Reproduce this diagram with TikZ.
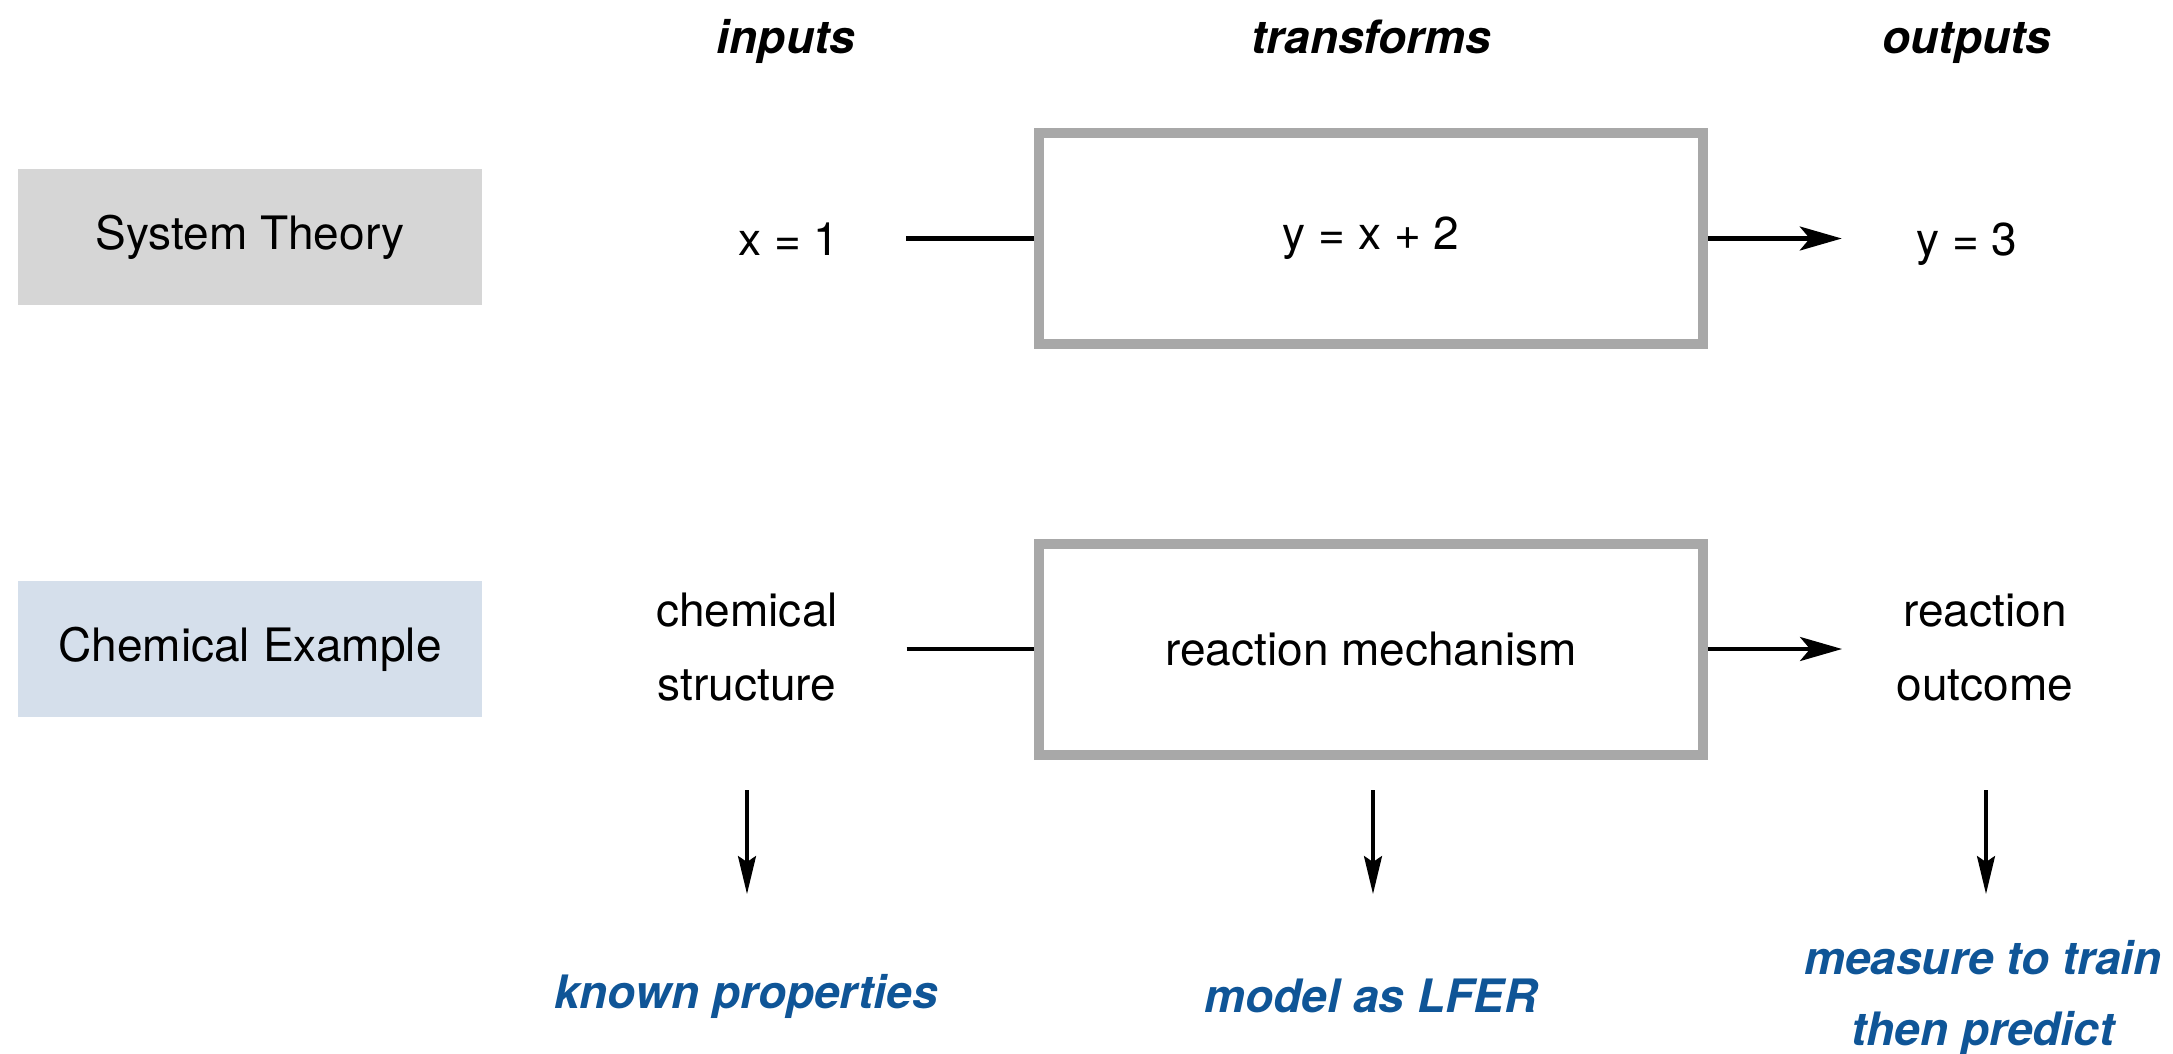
\documentclass[tikz,border=0pt]{standalone}
\usepackage{fontspec}
\setmainfont{TeX Gyre Heros}
\usetikzlibrary{arrows.meta, positioning}
\definecolor{rowgray}{HTML}{D6D6D6}
\definecolor{rowblue}{HTML}{D5DFEB}
\definecolor{boxgray}{HTML}{A8A8A8}
\definecolor{noteblue}{HTML}{0F5597}
\tikzset{
    systemdiagram/.style={font=\fontsize{13.1}{21}\selectfont, inner sep=0pt},
    rowlabel/.style={fill=#1, minimum width=4.64cm, minimum height=1.36cm},
    stage/.style={draw=boxgray, line width=1mm, fill=white, minimum width=6.64cm, minimum height=2.11cm},
    heading/.style={font=\fontsize{13.1}{21}\selectfont\bfseries\itshape, anchor=base},
    term/.style={anchor=base, align=center},
    note/.style={text=noteblue, font=\fontsize{13.1}{20}\selectfont\bfseries\itshape, anchor=base, align=center},
    link/.style={line width=1.15pt},
    flow/.style={link, -{Stealth[length=4.2mm, width=2.4mm, inset=1mm]}},
    drop/.style={line width=0.9pt, -{Stealth[length=3.8mm, width=1.8mm, inset=0.6mm]}},
}
\begin{document}
\begin{tikzpicture}[systemdiagram]
    \useasboundingbox (0,0) rectangle (21.73,-10.53);

    % column headings
    \node[heading] (hin)  at (7.86,-0.53)  {inputs};
    \node[heading] (htr)  at (13.71,-0.53) {transforms};
    \node[heading] (hout) at (19.67,-0.53) {outputs};

    % row labels
    \node[rowlabel=rowgray] (sys)  at (2.50,-2.37) {System Theory};
    \node[rowlabel=rowblue] (chem) at (2.50,-6.49) {Chemical Example};

    % transform boxes
    \node[stage] (rule) at (13.71,-2.385) {y = x + 2};
    \node[stage] (mech) at (13.71,-6.49)  {reaction mechanism};

    % inputs and outputs (base = last line)
    \node[term] (x1)      at (7.89,-2.55)  {x = 1};
    \node[term] (y3)      at (19.67,-2.55) {y = 3};
    \node[term] (chemin)  at (7.47,-7.00)  {chemical\\structure};
    \node[term] (outcome) at (19.85,-7.00) {reaction\\outcome};

    % notes
    \node[note] (known) at (7.46,-10.08)  {known properties};
    \node[note] (lfer)  at (13.71,-10.12) {model as LFER};
    \node[note] (train) at (19.83,-10.45) {measure to train\\then predict};

    % horizontal connectors
    \draw[link, shorten <=0.66cm] (x1.east |- rule.west) -- (rule.west);
    \draw[flow, shorten >=0.74cm] (rule.east) -- (rule.east -| y3.west);
    \draw[link, shorten <=0.68cm] (chemin.east |- mech.west) -- (mech.west);
    \draw[flow, shorten >=0.54cm] (mech.east) -- (mech.east -| outcome.west);

    % downward arrows
    \coordinate (drop1) at (7.47,-7.90);
    \coordinate (drop2) at (13.73,-7.90);
    \coordinate (drop3) at (19.86,-7.90);
    \coordinate (land1) at (7.47,-8.94);
    \coordinate (land2) at (13.73,-8.94);
    \coordinate (land3) at (19.86,-8.94);
    \draw[drop] (drop1) -- (land1);
    \draw[drop] (drop2) -- (land2);
    \draw[drop] (drop3) -- (land3);
\end{tikzpicture}
\end{document}
